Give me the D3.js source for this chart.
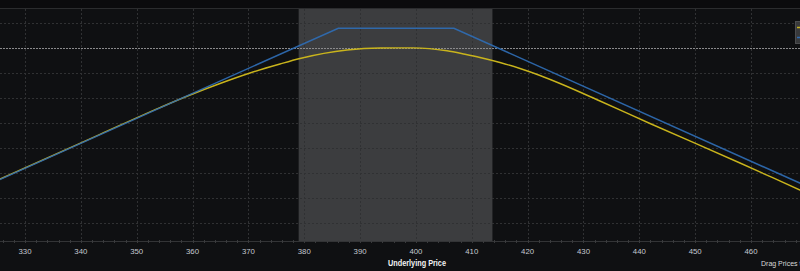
<!DOCTYPE html>
<html><head><meta charset="utf-8">
<script src="https://cdn.jsdelivr.net/npm/d3@7/dist/d3.min.js"></script>
<style>
html,body{margin:0;padding:0;background:#0f1012;overflow:hidden;}
svg{display:block;}
</style></head>
<body>
<svg id="c" width="800" height="271"></svg>
<script>
// ---- data ----
const xTicks = [330,340,350,360,370,380,390,400,410,420,430,440,450,460];
const xLabel = "Underlying Price";
const dragLabel = "Drag Prices to";
const shadedRange = [379.0, 413.7];
const yGrid = [1000,-1000,-2000,-3000,-4000,-5000,-6000,-7000];
// expiration P&L (blue)
const expPrice = [320, 386.1, 406.8, 475];
const expPL    = [-5810, 790, 790, -6030];
// theoretical P&L today (yellow)
const nowPrice = [320, 325.52, 343.43, 354.17, 359.55, 364.92, 370.29, 375.66, 379.24, 387.66, 393.57, 399.48, 405.56, 408.79, 411.47, 415.05, 418.64, 422.22, 425.80, 432.96, 441.91, 458.03, 468.77, 475];
const nowPL    = [-5795, -5240, -3452, -2384, -1880, -1420, -1000, -640, -420, -80, 0, 4, -112, -252, -380, -580, -820, -1100, -1420, -2120, -3020, -4600, -5680, -6300];

const W = 800, H = 271;
const svg = d3.select("#c");
const plotTop = 9, plotBottom = 241;
const x = d3.scaleLinear().domain([330, 460]).range([25, 751]);
const y = d3.scaleLinear().domain([0, -1000]).range([48, 73]);
const FONT = "'Liberation Sans', Arial, sans-serif";

svg.append("rect").attr("x",0).attr("y",0).attr("width",W).attr("height",H).attr("fill","#0f1012");
svg.append("rect").attr("x",0).attr("y",0).attr("width",W).attr("height",8).attr("fill","#0b0b0d");
svg.append("line").attr("x1",0).attr("x2",W).attr("y1",8.5).attr("y2",8.5).attr("stroke","#2b2c2e").attr("stroke-width",1);

// shaded band
svg.append("rect")
  .attr("x", x(shadedRange[0])).attr("y", plotTop)
  .attr("width", x(shadedRange[1]) - x(shadedRange[0])).attr("height", plotBottom - plotTop)
  .attr("fill", "#3c3d3f");

// horizontal grid
svg.append("g").selectAll("line").data(yGrid).join("line")
  .attr("x1",0).attr("x2",W)
  .attr("y1",d=>Math.round(y(d))+0.5).attr("y2",d=>Math.round(y(d))+0.5)
  .attr("stroke","#303133").attr("stroke-dasharray","2,2");

// vertical grid
svg.append("g").selectAll("line").data(xTicks).join("line")
  .attr("x1",d=>Math.round(x(d))+0.5).attr("x2",d=>Math.round(x(d))+0.5)
  .attr("y1",plotTop).attr("y2",plotBottom+3)
  .attr("stroke","#303133").attr("stroke-dasharray","2,2");

// zero line
svg.append("line").attr("x1",0).attr("x2",W)
  .attr("y1",Math.round(y(0))+0.5).attr("y2",Math.round(y(0))+0.5)
  .attr("stroke","#8a8a8c").attr("stroke-dasharray","2,1");

// x axis line and minor ticks
svg.append("line").attr("x1",0).attr("x2",W).attr("y1",plotBottom+0.5).attr("y2",plotBottom+0.5).attr("stroke","#333436");
const minor = d3.range(326, 470, 2);
svg.append("g").selectAll("line").data(minor).join("line")
  .attr("x1",d=>Math.round(x(d))+0.5).attr("x2",d=>Math.round(x(d))+0.5)
  .attr("y1",plotBottom-1).attr("y2",plotBottom+2)
  .attr("stroke","#3a3b3d");

// tick labels
svg.append("g").selectAll("text").data(xTicks).join("text")
  .attr("x",d=>x(d)).attr("y",253.5)
  .attr("text-anchor","middle")
  .attr("font-family",FONT)
  .attr("font-size",7.8).attr("fill","#c3c8d0")
  .text(d=>d);

svg.append("text").attr("x",388).attr("y",265.5)
  .attr("font-family",FONT).attr("font-weight","bold")
  .attr("font-size",8.2).attr("fill","#f2f2f2")
  .attr("textLength",58).attr("lengthAdjust","spacingAndGlyphs")
  .text(xLabel);
svg.append("text").attr("x",761).attr("y",265.5)
  .attr("font-family",FONT)
  .attr("font-size",7).attr("fill","#d8d8d8").text(dragLabel);

// lines
svg.append("clipPath").attr("id","cl").append("rect")
  .attr("x",0).attr("y",plotTop).attr("width",W).attr("height",plotBottom-plotTop);

const lineGen = d3.line().x(d=>x(d[0])).y(d=>y(d[1]));
const curveGen = d3.line().x(d=>x(d[0])).y(d=>y(d[1])).curve(d3.curveMonotoneX);

const g = svg.append("g").attr("clip-path","url(#cl)");
g.append("path").datum(nowPrice.map((p,i)=>[p,nowPL[i]]))
  .attr("d",curveGen).attr("fill","none").attr("stroke","#c9b41c").attr("stroke-width",1.4);
g.append("path").datum(expPrice.map((p,i)=>[p,expPL[i]]))
  .attr("d",lineGen).attr("fill","none").attr("stroke","#2f6db4").attr("stroke-width",1.5)
  .attr("stroke-opacity",0.92);

// legend box at right edge
svg.append("rect").attr("x",795.5).attr("y",21.5).attr("width",10).attr("height",22)
  .attr("fill","#38393b").attr("stroke","#4c4d4f");
svg.append("line").attr("x1",797).attr("x2",800).attr("y1",27.5).attr("y2",27.5).attr("stroke","#c9b41c").attr("stroke-width",1.5);
svg.append("line").attr("x1",797).attr("x2",800).attr("y1",37.5).attr("y2",37.5).attr("stroke","#2f6db4").attr("stroke-width",1.5);
</script>
</body></html>
